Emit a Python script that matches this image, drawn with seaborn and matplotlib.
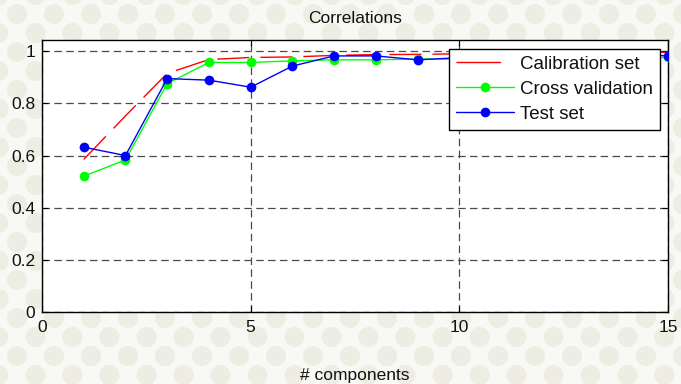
import numpy as np
import pandas as pd
import matplotlib
matplotlib.use("Agg")
import matplotlib.pyplot as plt
import seaborn as sns

# Correlation vs. number of model components
components = list(range(1, 16))
calibration = [0.585, 0.752, 0.915, 0.968, 0.976, 0.978, 0.984, 0.987,
               0.988, 0.990, 0.991, 0.992, 0.993, 0.995, 0.996]
cross_validation = [0.521, 0.583, 0.876, 0.957, 0.957, 0.963, 0.967, 0.967,
                    0.970, 0.970, 0.972, 0.972, 0.973, 0.974, 0.976]
test_set = [0.632, 0.600, 0.895, 0.889, 0.862, 0.943, 0.982, 0.982,
            0.967, 0.975, 0.980, 0.983, 0.984, 0.984, 0.983]

x_ticks = [0, 5, 10, 15]
y_ticks = [0, 0.2, 0.4, 0.6, 0.8, 1]
y_tick_labels = ["0", "0.2", "0.4", "0.6", "0.8", "1"]

sns.set_theme(style="white")
plt.rcParams["font.family"] = ["Liberation Sans", "DejaVu Sans"]
plt.rcParams["font.size"] = 12.5

W, H = 681, 384
fig = plt.figure(figsize=(W / 100, H / 100), dpi=100)
fig.patch.set_facecolor("#f8f8f4")

# Patterned backdrop: staggered rows of soft discs
bg = fig.add_axes([0, 0, 1, 1], zorder=-5)
bg.set_xlim(0, W)
bg.set_ylim(0, H)
bg.axis("off")
cx, cy = [], []
for r, yy in enumerate(np.arange(-10, H + 20, 19)):
    off = 0 if r % 2 == 0 else 18.5
    for xx in np.arange(-20 + off, W + 20, 37):
        cx.append(xx)
        cy.append(yy)
bg.scatter(cx, cy, s=(20 * 0.72) ** 2, color="#eeede3", edgecolors="none")

ax = fig.add_axes([42 / W, 1 - 312 / H, 626 / W, 272 / H])
ax.set_facecolor("white")

df = pd.DataFrame({
    "components": components,
    "calibration": calibration,
    "cross": cross_validation,
    "test": test_set,
})

sns.lineplot(data=df, x="components", y="calibration", ax=ax, color="#ff0000",
             linewidth=1.0, linestyle=(0, (23, 8)), label="Calibration set",
             zorder=3)
sns.lineplot(data=df, x="components", y="cross", ax=ax, color="#00ff00",
             linewidth=1.0, marker="o", markersize=7, markeredgewidth=0,
             label="Cross validation", zorder=4)
sns.lineplot(data=df, x="components", y="test", ax=ax, color="#0000ff",
             linewidth=1.0, marker="o", markersize=7, markeredgewidth=0,
             label="Test set", zorder=5)

ax.set_xlim(0, 15)
ax.set_ylim(0, 1.043)
ax.set_xticks(x_ticks)
ax.set_yticks(y_ticks)
ax.set_yticklabels(y_tick_labels)

ax.grid(True, color="#4a4a4a", linewidth=0.9, linestyle=(0, (6, 3.5)), zorder=1)
ax.set_axisbelow(True)
for s in ax.spines.values():
    s.set_visible(True)
    s.set_color("black")
    s.set_linewidth(1.0)
ax.tick_params(axis="both", direction="in", length=4, width=0.8, color="black",
               top=True, right=True, bottom=True, left=True,
               labelsize=12.5, labelcolor="#111111")
ax.tick_params(axis="x", pad=6)
ax.tick_params(axis="y", pad=5)

ax.set_title("Correlations", fontsize=12.5, pad=12.5, color="#111111")
ax.set_xlabel("# components", fontsize=12.5, color="#111111")
ax.set_ylabel("")
ax.xaxis.set_label_coords(0.5, -0.205)
ax.xaxis.label.set_verticalalignment("top")

leg = ax.legend(loc="upper right", bbox_to_anchor=(0.987, 0.967),
                frameon=True, fancybox=False, framealpha=1, edgecolor="black",
                facecolor="white", handlelength=3.1, handletextpad=0.32,
                labelspacing=0.42, borderpad=0.36, borderaxespad=0,
                fontsize=13.5)
leg.get_frame().set_linewidth(1.0)
leg.set_zorder(10)
leg.get_lines()[0].set_linestyle((0, (32, 10)))
for t in leg.get_texts():
    t.set_color("#111111")

fig.savefig("out.png", dpi=100, facecolor=fig.get_facecolor())
